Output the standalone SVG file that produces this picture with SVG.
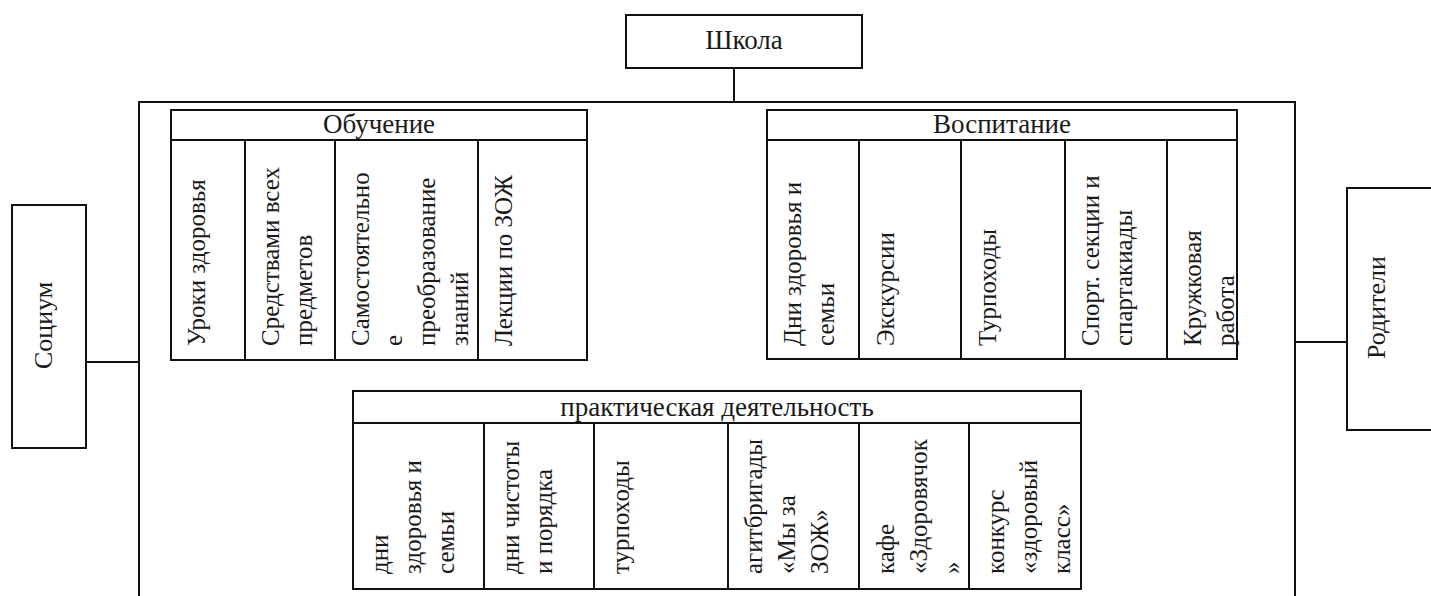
<svg xmlns="http://www.w3.org/2000/svg" width="1431" height="596" viewBox="0 0 1431 596">
<style>
.b{fill:none;stroke:#111;stroke-width:2}
.t{font-family:"Liberation Serif","Times New Roman",serif;font-size:25px;fill:#1a1a1a}
.h{font-size:27px;text-anchor:middle}
.s{font-size:26px}
</style>
<rect width="1431" height="596" fill="#fff"/>
<g id="connectors">
<path class="b" d="M734,68 V102"/>
<path class="b" d="M139,600 V102 H1295 V600"/>
<path class="b" d="M86,362 H139"/>
<path class="b" d="M1295,342 H1347"/>
</g>
<g id="school">
<rect class="b" x="626" y="15" width="236" height="53"/>
<text class="t h" x="744" y="49">Школа</text>
</g>
<g id="socium">
<rect class="b" x="12" y="205" width="74" height="243"/>
<text class="t s" transform="translate(52,369) rotate(-90)">Социум</text>
</g>
<g id="parents">
<path class="b" d="M1435,188 H1347 V430 H1435"/>
<text class="t s" transform="translate(1385,359) rotate(-90)">Родители</text>
</g>
<g id="obuchenie">
<rect class="b" x="171" y="110" width="416" height="250"/>
<path class="b" d="M171,140 H587 M245,140 V360 M335,140 V360 M478,140 V360"/>
<text class="t h" x="379" y="133">Обучение</text>
<text class="t" transform="translate(205,346) rotate(-90)">Уроки здоровья</text>
<text class="t" transform="translate(279,346) rotate(-90)">Средствами всех</text>
<text class="t" transform="translate(312,346) rotate(-90)">предметов</text>
<text class="t" transform="translate(369,346) rotate(-90)">Самостоятельно</text>
<text class="t" transform="translate(402,346) rotate(-90)">е</text>
<text class="t" transform="translate(435,346) rotate(-90)">преобразование</text>
<text class="t" transform="translate(468,346) rotate(-90)">знаний</text>
<text class="t" transform="translate(512,346) rotate(-90)">Лекции по ЗОЖ</text>
</g>
<g id="vospitanie">
<rect class="b" x="767" y="110" width="470" height="249"/>
<path class="b" d="M767,140 H1237 M859,140 V359 M961,140 V359 M1065,140 V359 M1167,140 V359"/>
<text class="t h" x="1002" y="133">Воспитание</text>
<text class="t" transform="translate(801,346) rotate(-90)">Дни здоровья и</text>
<text class="t" transform="translate(834,346) rotate(-90)">семьи</text>
<text class="t" transform="translate(894,346) rotate(-90)">Экскурсии</text>
<text class="t" transform="translate(996,346) rotate(-90)">Турпоходы</text>
<text class="t" transform="translate(1099,346) rotate(-90)">Спорт. секции и</text>
<text class="t" transform="translate(1132,346) rotate(-90)">спартакиады</text>
<text class="t" transform="translate(1201,346) rotate(-90)">Кружковая</text>
<text class="t" transform="translate(1234,346) rotate(-90)">работа</text>
</g>
<g id="praktika">
<rect class="b" x="353" y="391" width="728" height="198"/>
<path class="b" d="M353,423 H1081 M484,423 V589 M594,423 V589 M728,423 V589 M859,423 V589 M969,423 V589"/>
<text class="t h" x="717" y="416">практическая деятельность</text>
<text class="t" transform="translate(388,574) rotate(-90)">дни</text>
<text class="t" transform="translate(421,574) rotate(-90)">здоровья и</text>
<text class="t" transform="translate(454,574) rotate(-90)">семьи</text>
<text class="t" transform="translate(519,574) rotate(-90)">дни чистоты</text>
<text class="t" transform="translate(552,574) rotate(-90)">и порядка</text>
<text class="t" transform="translate(629,574) rotate(-90)">турпоходы</text>
<text class="t" transform="translate(762,574) rotate(-90)">агитбригады</text>
<text class="t" transform="translate(795,574) rotate(-90)">«Мы за</text>
<text class="t" transform="translate(828,574) rotate(-90)">ЗОЖ»</text>
<text class="t" transform="translate(894,574) rotate(-90)">кафе</text>
<text class="t" transform="translate(927,574) rotate(-90)">«Здоровячок</text>
<text class="t" transform="translate(960,574) rotate(-90)">»</text>
<text class="t" transform="translate(1004,574) rotate(-90)">конкурс</text>
<text class="t" transform="translate(1037,574) rotate(-90)">«здоровый</text>
<text class="t" transform="translate(1070,574) rotate(-90)">класс»</text>
</g>
</svg>
